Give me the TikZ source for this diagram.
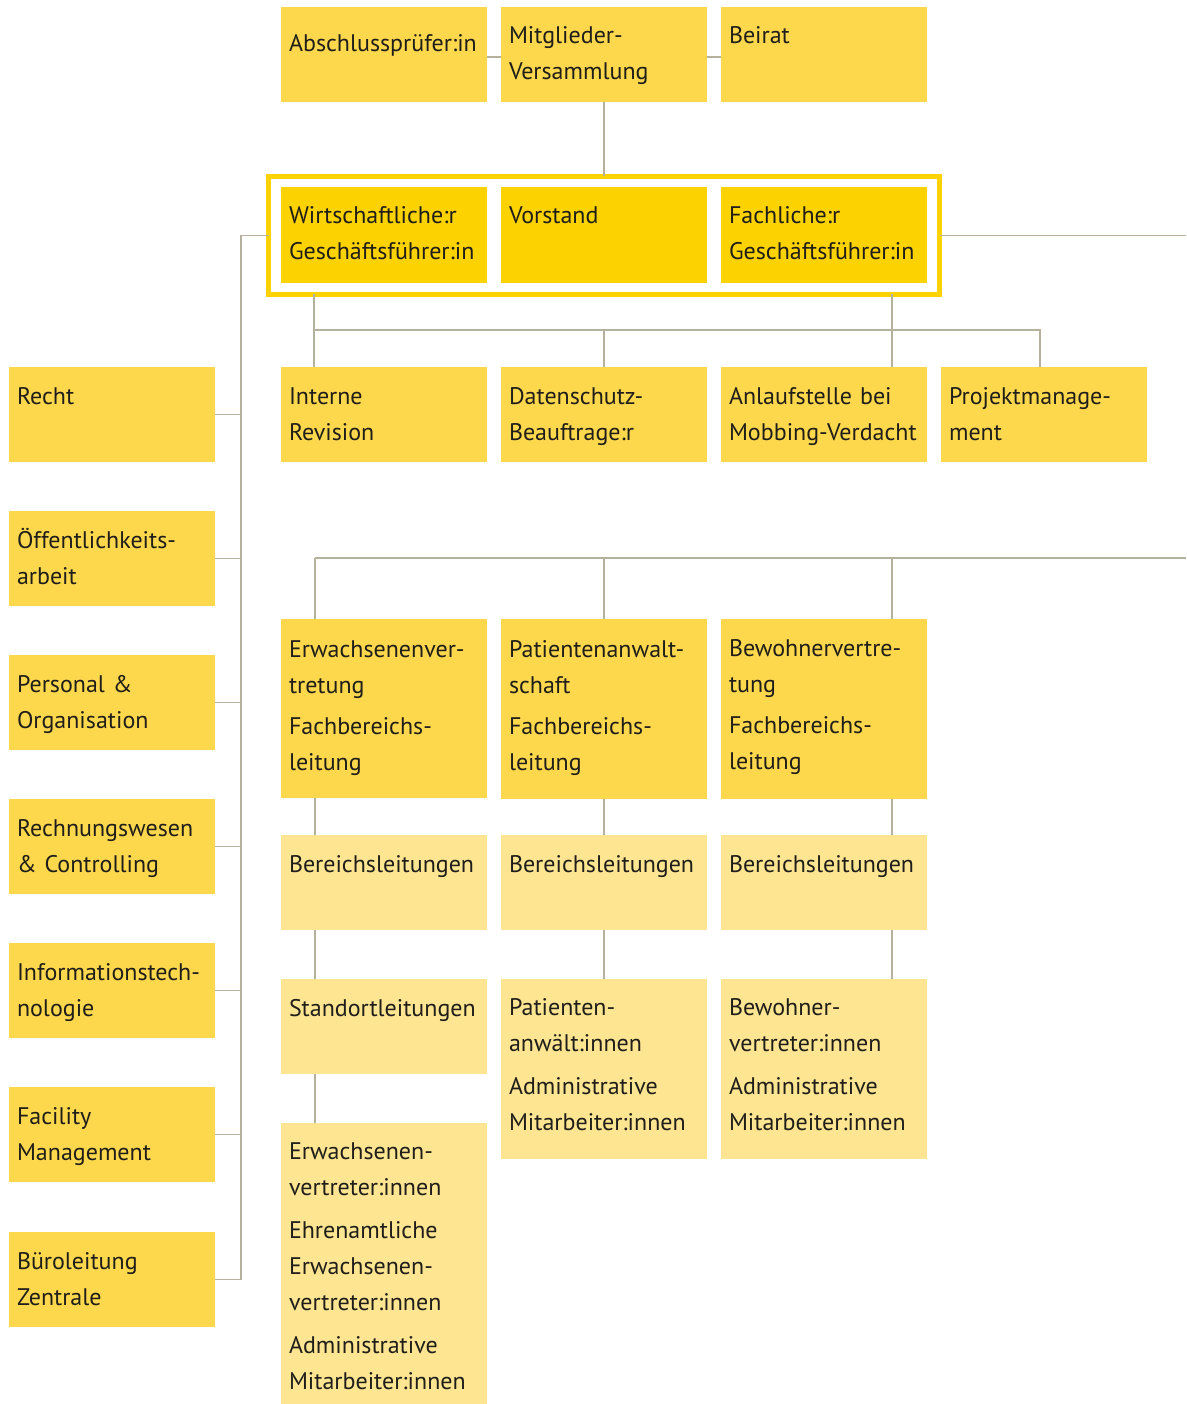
\documentclass[tikz,border=0pt]{standalone}
\usepackage{fontspec}
\setmainfont{PT Sans}
\usetikzlibrary{calc}
\definecolor{midy}{HTML}{FDD84C}
\definecolor{goldy}{HTML}{FCD200}
\definecolor{lighty}{HTML}{FDE591}
\definecolor{connc}{HTML}{B4B19C}
\definecolor{txtc}{HTML}{1F1E1A}
\tikzset{
  boxbase/.style={inner sep=0pt, outer sep=0pt, draw=none, anchor=north west},
  midbox/.style={boxbase, fill=midy},
  goldbox/.style={boxbase, fill=goldy},
  lightbox/.style={boxbase, fill=lighty},
  lbl/.style={inner sep=0pt, outer sep=0pt, text width=205pt, align=left,
    font=\fontsize{24}{36}\selectfont, text=txtc, anchor=base west},
  conn/.style={draw=connc, line width=1.8pt},
}
\newcommand\obox[8]{%
  \node[#6, minimum width=#4pt, minimum height=#5pt] (#1) at (#2,#3) {};
  \node[lbl] (#1-t) at ($(#1.north west)+(8,#8)$) {#7};
}
\begin{document}
\begin{tikzpicture}[x=1pt,y=-1pt]
\useasboundingbox (0,0) rectangle (1186,1404);
% top row
\obox{abs}{281}{7}{206}{95}{midbox}{Abschlussprüfer:in}{45}
\obox{mit}{501}{7}{206}{95}{midbox}{Mitglieder-\\Versammlung}{37}
\obox{bei}{721}{7}{206}{95}{midbox}{Beirat}{37}
% frame
\node[draw=goldy, line width=5pt, inner sep=0pt, outer sep=0pt, minimum width=671pt, minimum height=118pt, anchor=north west] (frame) at (268.5,176.5) {};
\obox{wir}{281}{187}{206}{96}{goldbox}{Wirtschaftliche:r\\Geschäftsführer:in}{37}
\obox{vor}{501}{187}{206}{96}{goldbox}{Vorstand}{37}
\obox{fac}{721}{187}{206}{96}{goldbox}{Fachliche:r\\Geschäftsführer:in}{37}
% row 3
\obox{ir}{281}{367}{206}{95}{midbox}{Interne\\Revision}{37}
\obox{ds}{501}{367}{206}{95}{midbox}{Datenschutz-\\Beauftrage:r}{37}
\obox{an}{721}{367}{206}{95}{midbox}{Anlaufstelle bei\\Mobbing-Verdacht}{37}
\obox{pm}{941}{367}{206}{95}{midbox}{Projektmanage-\\ment}{37}
% left column
\obox{recht}{9}{367}{206}{95}{midbox}{Recht}{37}
\obox{oef}{9}{511}{206}{95}{midbox}{Öffentlichkeits-\\arbeit}{37}
\obox{pers}{9}{655}{206}{95}{midbox}{Personal \&\\Organisation}{37}
\obox{rech}{9}{799}{206}{95}{midbox}{Rechnungswesen\\\& Controlling}{37}
\obox{inf}{9}{943}{206}{95}{midbox}{Informationstech-\\nologie}{37}
\obox{fm}{9}{1087}{206}{95}{midbox}{Facility\\Management}{37}
\obox{bl}{9}{1232}{206}{95}{midbox}{Büroleitung\\Zentrale}{37}
% row 4
\obox{erw}{281}{619}{206}{179}{midbox}{Erwachsenenver-\\tretung\\[5pt]Fachbereichs-\\leitung}{38}
\obox{pat}{501}{619}{206}{180}{midbox}{Patientenanwalt-\\schaft\\[5pt]Fachbereichs-\\leitung}{38}
\obox{bew}{721}{619}{206}{180}{midbox}{Bewohnervertre-\\tung\\[5pt]Fachbereichs-\\leitung}{37}
% row 5
\obox{be1}{281}{835}{206}{95}{lightbox}{Bereichsleitungen}{37}
\obox{be2}{501}{835}{206}{95}{lightbox}{Bereichsleitungen}{37}
\obox{be3}{721}{835}{206}{95}{lightbox}{Bereichsleitungen}{37}
% row 6
\obox{st}{281}{979}{206}{95}{lightbox}{Standortleitungen}{37}
\obox{pa}{501}{979}{206}{180}{lightbox}{Patienten-\\anwält:innen\\[7pt]Administrative\\Mitarbeiter:innen}{36}
\obox{bw}{721}{979}{206}{180}{lightbox}{Bewohner-\\vertreter:innen\\[7pt]Administrative\\Mitarbeiter:innen}{36}
% row 7
\obox{ev}{281}{1123}{206}{281}{lightbox}{Erwachsenen-\\vertreter:innen\\[7pt]Ehrenamtliche\\Erwachsenen-\\vertreter:innen\\[7pt]Administrative\\Mitarbeiter:innen}{36}
% helper coordinates
\coordinate (sp) at (241,0);
\coordinate (redge) at (1186,0);
\coordinate (u1) at (314,330);
\coordinate (u4) at (1040,330);
\coordinate (xa) at (892,0);
\coordinate (l1) at (315,558);
\coordinate (xb) at (604,0);
% connectors top
\draw[conn] (abs.east |- 0,57) -- (mit.west |- 0,57);
\draw[conn] (mit.east |- 0,57) -- (bei.west |- 0,57);
\draw[conn] (mit.south) -- (mit.south |- frame.north);
\draw[conn] (frame.east) -- (frame.east -| redge);
% left spine
\draw[conn] (frame.west) -| (sp |- bl.east) -- (bl.east);
\foreach \n in {recht,oef,pers,rech,inf,fm}{
  \draw[conn] (\n.east) -- (\n.east -| sp);
}
% below frame
\draw[conn] (frame.south -| u1) -- (u1 |- ir.north);
\draw[conn] (u1) -- (u4) -- (u4 |- pm.north);
\draw[conn] (ds.north |- u1) -- (ds.north);
\draw[conn] (frame.south -| xa) -- (xa |- an.north);
% lower tree
\draw[conn] (l1) -- (l1 -| redge);
\draw[conn] (l1) -- (l1 |- erw.north);
\draw[conn] (l1 -| xb) -- (xb |- pat.north);
\draw[conn] (l1 -| xa) -- (xa |- bew.north);
\draw[conn] (l1 |- erw.south) -- (l1 |- be1.north);
\draw[conn] (l1 |- be1.south) -- (l1 |- st.north);
\draw[conn] (l1 |- st.south) -- (l1 |- ev.north);
\draw[conn] (xb |- pat.south) -- (xb |- be2.north);
\draw[conn] (xb |- be2.south) -- (xb |- pa.north);
\draw[conn] (xa |- bew.south) -- (xa |- be3.north);
\draw[conn] (xa |- be3.south) -- (xa |- bw.north);
\end{tikzpicture}
\end{document}
